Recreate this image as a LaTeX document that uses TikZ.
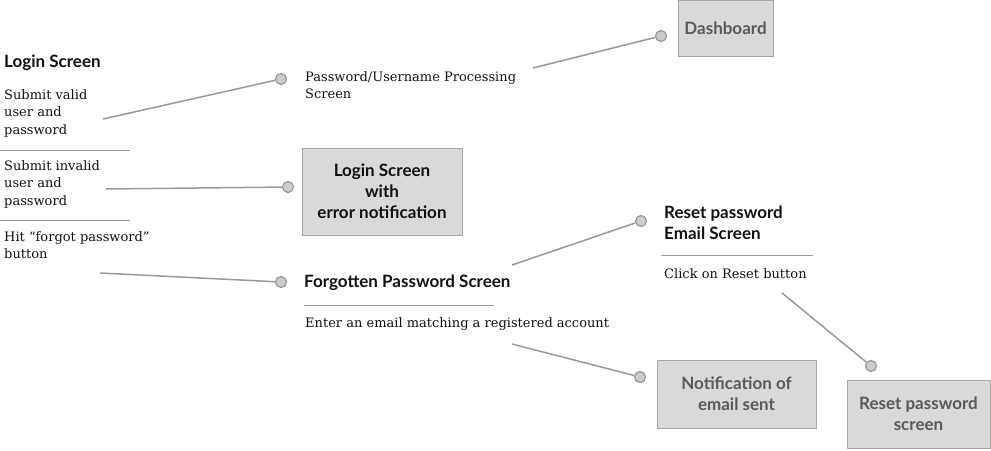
\documentclass[tikz,border=0pt]{standalone}
\usepackage{fontspec}
\newfontfamily\lato{Lato}
\newfontfamily\bodyf{DejaVu Serif}
\definecolor{boxfill}{HTML}{D9D9D9}
\definecolor{boxline}{HTML}{A6A6A6}
\definecolor{conn}{HTML}{999999}
\definecolor{dotfill}{HTML}{CCCCCC}
\definecolor{greytext}{HTML}{595959}
\definecolor{headtext}{HTML}{111111}
\begin{document}
\begin{tikzpicture}[x=1pt,y=-1pt,
  body/.style={anchor=north west, inner sep=0pt, align=left, font=\bodyf\fontsize{13}{17.5}\selectfont, text=headtext},
  head/.style={anchor=north west, inner sep=0pt, align=left, font=\lato\bfseries\fontsize{17}{21}\selectfont, text=headtext},
  screen/.style={draw=boxline, fill=boxfill, line width=1pt, align=center, font=\lato\bfseries\fontsize{17}{21}\selectfont, inner sep=0pt},
  dot/.style={circle, draw=conn, fill=dotfill, line width=1.2pt, minimum size=11pt, inner sep=0pt},
  link/.style={draw=conn, line width=1.5pt},
  sep/.style={draw=conn, line width=1pt}]
\useasboundingbox (0,0) rectangle (991,450);

% boxes
\node[screen, text=greytext, minimum width=95pt, minimum height=56pt] (dash) at (725.5,28) {Dashboard};
\node[screen, text=headtext, minimum width=160pt, minimum height=87pt] (loginerr) at (382,191.5) {Login Screen\\with\\error notification};
\node[screen, text=greytext, minimum width=159pt, minimum height=68pt] (notif) at (736.5,394) {Notification of\\email sent};
\node[screen, text=greytext, minimum width=143pt, minimum height=68pt] (resetscr) at (918.5,414) {Reset password\\screen};

% texts
\node[head] (login) at (4,55) {Login Screen};
\node[body] (valid) at (4,89) {Submit valid\\user and\\password};
\node[body] (invalid) at (4,160) {Submit invalid\\user and\\password};
\node[body] (forgot) at (4,231) {Hit “forgot password”\\button};
\node[body] (proc) at (305,71) {Password/Username Processing\\Screen};
\node[head] (fps) at (304,275) {Forgotten Password Screen};
\node[body] (enter) at (305,317) {Enter an email matching a registered account};
\node[head] (rpe) at (664,206) {Reset password\\Email Screen};
\node[body] (click) at (664,268) {Click on Reset button};

% separators
\coordinate (s1a) at (0,150); \coordinate (s1b) at (130,150);
\coordinate (s2a) at (0,220); \coordinate (s2b) at (130,220);
\coordinate (s3a) at (304,305); \coordinate (s3b) at (494,305);
\coordinate (s4a) at (661,255); \coordinate (s4b) at (813,255);
\draw[sep] (s1a) -- (s1b);
\draw[sep] (s2a) -- (s2b);
\draw[sep] (s3a) -- (s3b);
\draw[sep] (s4a) -- (s4b);

% connector ends
\coordinate (c1) at (103,119);
\coordinate (c2) at (106,189);
\coordinate (c3) at (100,273);
\coordinate (c4) at (533,68);
\coordinate (c5) at (512,265);
\coordinate (c6) at (512,344);
\coordinate (c7) at (782,293);

\node[dot] (d1) at (281,79) {};
\node[dot] (d2) at (288,187) {};
\node[dot] (d3) at (281,282) {};
\node[dot] (d4) at (661,36) {};
\node[dot] (d5) at (641,221) {};
\node[dot] (d6) at (640,377) {};
\node[dot] (d7) at (871,366) {};

\draw[link] (c1) -- (d1);
\draw[link] (c2) -- (d2);
\draw[link] (c3) -- (d3);
\draw[link] (c4) -- (d4);
\draw[link] (c5) -- (d5);
\draw[link] (c6) -- (d6);
\draw[link] (c7) -- (d7);
\end{tikzpicture}
\end{document}
